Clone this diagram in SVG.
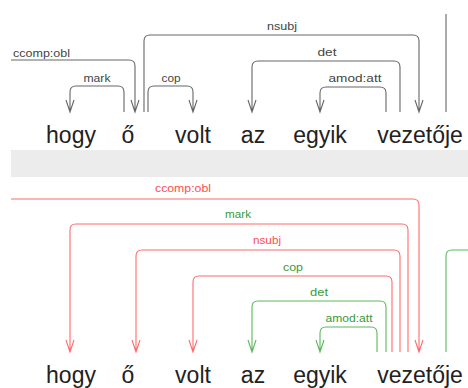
<svg xmlns="http://www.w3.org/2000/svg" width="468" height="388" viewBox="0 0 468 388">
<defs>
<style>
.w{font-family:"Liberation Sans",Arial,sans-serif;font-size:23px;fill:#222;text-anchor:middle}
.l{font-family:"Liberation Sans",Arial,sans-serif;font-size:10px;text-anchor:middle}
.lt{fill:#444}
.lr{fill:#ff4d4d}
.lg{fill:#3a9a3a}
.e{fill:none;stroke-width:1.1}
.eg{stroke:#666}
.er{stroke:#ff6b6b}
.egr{stroke:#5cb85c}
</style>
</defs>
<rect width="468" height="388" fill="#fff"/>
<rect x="11" y="150" width="457" height="27" fill="#ececec"/>
<g id="connectors">
<path class="e eg" d="M11,60 H129 Q135,60 135,66 V112 M131,100 L135,112 L139,100"/>
<path class="e eg" d="M124,112 V92 Q124,86 118,86 H76 Q70,86 70,92 V112 M66,100 L70,112 L74,100"/>
<path class="e eg" d="M144,112 V41 Q144,35 150,35 H413 Q419,35 419,41 V112 M415,100 L419,112 L423,100"/>
<path class="e eg" d="M148,112 V92 Q148,86 154,86 H187 Q193,86 193,92 V112 M189,100 L193,112 L197,100"/>
<path class="e eg" d="M400,112 V67 Q400,61 394,61 H258 Q252,61 252,67 V112 M248,100 L252,112 L256,100"/>
<path class="e eg" d="M386,112 V93 Q386,87 380,87 H326 Q320,87 320,93 V112 M316,100 L320,112 L324,100"/>
<path class="e eg" d="M446,112 V14"/>
<path class="e er" d="M11,199 H413 Q419,199 419,205 V352 M415,340 L419,352 L423,340"/>
<path class="e er" d="M408,352 V230 Q408,224 402,224 H76 Q70,224 70,230 V352 M66,340 L70,352 L74,340"/>
<path class="e er" d="M400,352 V256 Q400,250 394,250 H142 Q136,250 136,256 V352 M132,340 L136,352 L140,340"/>
<path class="e er" d="M392,352 V282 Q392,276 386,276 H199 Q193,276 193,282 V352 M189,340 L193,352 L197,340"/>
<path class="e egr" d="M386,352 V307 Q386,301 380,301 H258 Q252,301 252,307 V352 M248,340 L252,352 L256,340"/>
<path class="e egr" d="M377,352 V333 Q377,327 371,327 H326 Q320,327 320,333 V352 M316,340 L320,352 L324,340"/>
<path class="e egr" d="M446,352 V256 Q446,250 452,250 H468"/>
</g>
<g id="labels">
<text class="l lt" x="13" y="57" textLength="57" lengthAdjust="spacingAndGlyphs" style="text-anchor:start">ccomp:obl</text>
<text class="l lt" x="97" y="82" textLength="27" lengthAdjust="spacingAndGlyphs">mark</text>
<text class="l lt" x="171" y="82" textLength="19" lengthAdjust="spacingAndGlyphs">cop</text>
<text class="l lt" x="282" y="30" textLength="30" lengthAdjust="spacingAndGlyphs">nsubj</text>
<text class="l lt" x="327" y="56" textLength="19" lengthAdjust="spacingAndGlyphs">det</text>
<text class="l lt" x="355" y="82" textLength="53" lengthAdjust="spacingAndGlyphs">amod:att</text>
<text class="l lr" x="183" y="192" textLength="56" lengthAdjust="spacingAndGlyphs">ccomp:obl</text>
<text class="l lg" x="238" y="218" textLength="26" lengthAdjust="spacingAndGlyphs">mark</text>
<text class="l lr" x="267" y="244" textLength="28" lengthAdjust="spacingAndGlyphs">nsubj</text>
<text class="l lg" x="293" y="271" textLength="20" lengthAdjust="spacingAndGlyphs">cop</text>
<text class="l lg" x="319" y="296" textLength="18" lengthAdjust="spacingAndGlyphs">det</text>
<text class="l lg" x="349" y="322" textLength="47" lengthAdjust="spacingAndGlyphs">amod:att</text>
</g>
<g id="w-hogy"><text class="w" x="71" y="143">hogy</text><text class="w" x="71" y="383">hogy</text></g>
<g id="w-o"><text class="w" x="128" y="143">ő</text><text class="w" x="128" y="383">ő</text></g>
<g id="w-volt"><text class="w" x="193" y="143">volt</text><text class="w" x="193" y="383">volt</text></g>
<g id="w-az"><text class="w" x="253" y="143">az</text><text class="w" x="253" y="383">az</text></g>
<g id="w-egyik"><text class="w" x="320" y="143">egyik</text><text class="w" x="320" y="383">egyik</text></g>
<g id="w-vezetoje"><text class="w" x="420" y="143">vezetője</text><text class="w" x="420" y="383">vezetője</text></g>
</svg>
